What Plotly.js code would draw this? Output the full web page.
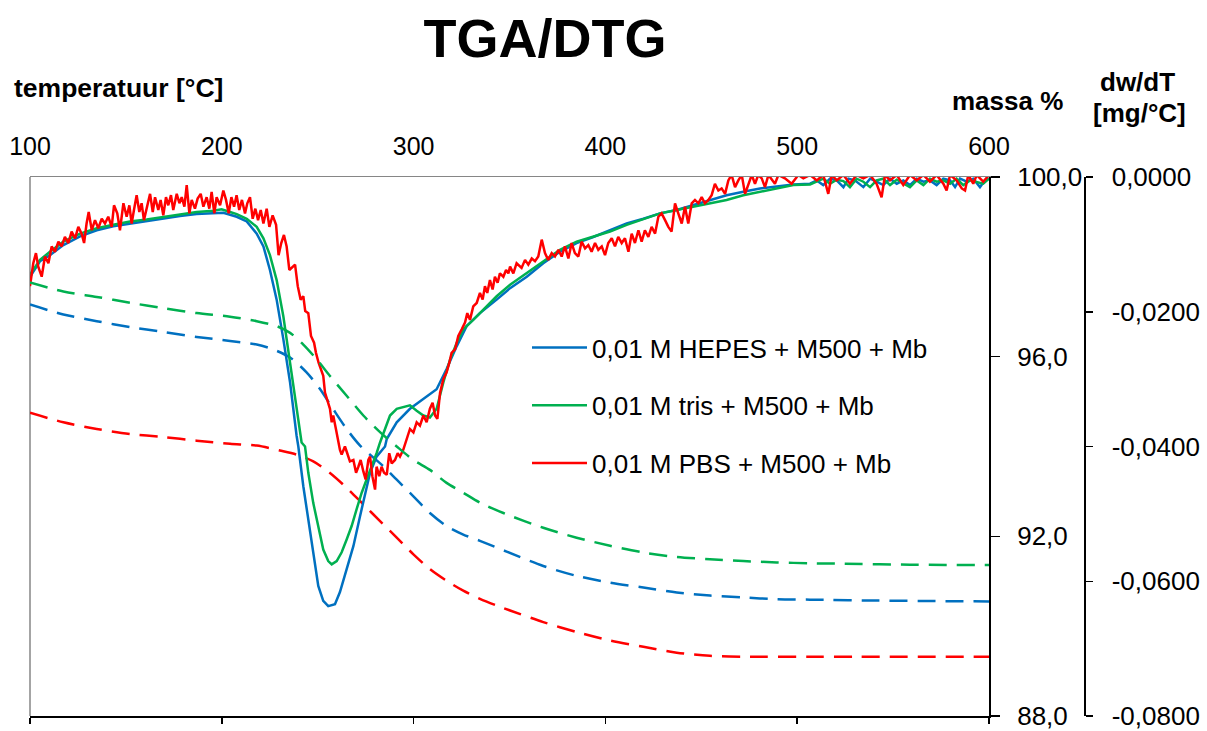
<!DOCTYPE html>
<html>
<head>
<meta charset="utf-8">
<script src="https://cdn.plot.ly/plotly-3.0.1.min.js"></script>
<style>html,body{margin:0;padding:0;background:#fff;}#chart{width:1207px;height:731px;}</style>
</head>
<body>
<div id="chart"></div>
<script>
// ---------- series names ----------
const seriesNames = ['0,01 M HEPES + M500 + Mb', '0,01 M tris + M500 + Mb', '0,01 M PBS + M500 + Mb'];

// ---------- tick labels ----------
const tempTicks = [100, 200, 300, 400, 500, 600];
const tempTickText = ['100', '200', '300', '400', '500', '600'];
const massTicks = [88, 92, 96, 100];
const massTickText = ['88,0', '92,0', '96,0', '100,0'];
const dtgTicks = [-0.08, -0.06, -0.04, -0.02, 0];
const dtgTickText = ['-0,0800', '-0,0600', '-0,0400', '-0,0200', '0,0000'];

// ---------- DTG (dw/dT, mg/°C), solid lines ----------
const dtgTempHepes = [100,105.2,110.4,117.4,126.1,134.8,143.4,152.1,160.8,169.5,178.2,186.9,195.6,200.8,207.8,213,218.2,221.7,225.1,228.6,232.1,235.6,239,239.9,242.5,245.1,247.7,250.3,252.9,255.5,259,261.6,265.1,268.6,272.1,275.5,277.3,280.7,285.1,286,291.2,298.1,305.1,312,317.2,322.5,327.7,334.6,343.3,350.3,359,367.6,376.3,385,393.7,402.4,411.1,419.8,428.5,437.2,445.8,454.5,463.2,471.9,480.6,489.3,498,506.7,510.2,513.6,517.1,520.6,524.1,526.7,530.1,534.5,538,541.4,544.9,548.4,551.9,555.3,558.8,562.3,565.8,569.2,572.7,576.2,579.7,582.3,584.9,588.4,591.8,595.3,597.9,600];
const dtgHepes = [-0.0148,-0.0125,-0.0116,-0.0101,-0.0088,-0.0079,-0.0073,-0.0069,-0.0065,-0.0062,-0.0058,-0.0055,-0.0054,-0.0053,-0.0059,-0.0066,-0.0084,-0.0103,-0.0138,-0.0182,-0.0241,-0.0305,-0.0384,-0.0400,-0.0459,-0.0508,-0.0557,-0.0607,-0.0629,-0.0637,-0.0634,-0.0616,-0.0582,-0.0548,-0.0503,-0.0464,-0.0439,-0.0415,-0.0400,-0.0389,-0.0364,-0.0344,-0.0330,-0.0315,-0.0285,-0.0251,-0.0221,-0.0202,-0.0182,-0.0165,-0.0148,-0.0128,-0.0111,-0.0098,-0.0089,-0.0079,-0.0069,-0.0062,-0.0054,-0.0049,-0.0042,-0.0034,-0.0027,-0.0022,-0.0017,-0.0014,-0.0011,-0.0010,-0.0005,-0.0012,-0.00025,-0.0005,-0.0015,-0.00025,-0.0005,-0.0015,-0.00025,-0.0007,-0.0012,-0.00025,-0.0010,-0.0005,-0.0012,-0.00025,-0.0007,-0.0005,-0.0012,-0.00025,-0.0005,-0.0015,-0.00025,-0.0007,-0.00025,-0.0015,-0.0005,-0.00025];

const dtgTempTris = [100,105.2,110.4,117.4,126.1,134.8,143.4,152.1,160.8,169.5,178.2,186.9,195.6,199.9,204.3,207.8,213,218.2,221.7,225.1,228.6,232.1,235.6,239,241.6,243.4,245.1,247.7,250.3,252.9,255.5,257.3,259.9,262.5,265.1,267.7,270.3,272.9,275.5,278.1,280.7,282.5,285.1,287.7,291.2,294.6,298.1,301.6,305.1,308.5,312,315.5,319,322.5,325.9,331.1,336.4,343.3,350.3,359,367.6,376.3,385,393.7,402.4,411.1,419.8,428.5,437.2,445.8,454.5,463.2,471.9,480.6,489.3,498,506.7,510.2,513.6,517.1,520.6,524.1,527.5,531,534.5,538,541.4,544.9,548.4,551.9,555.3,558.8,562.3,565.8,569.2,572.7,576.2,579.7,583.1,586.6,590.1,593.6,597,600];
const dtgTris = [-0.0145,-0.0123,-0.0111,-0.0096,-0.0084,-0.0076,-0.0071,-0.0066,-0.0063,-0.0059,-0.0056,-0.0052,-0.0050,-0.0048,-0.0052,-0.0055,-0.0062,-0.0074,-0.0091,-0.0116,-0.0153,-0.0207,-0.0276,-0.0344,-0.0394,-0.0400,-0.0439,-0.0484,-0.0518,-0.0553,-0.0570,-0.0575,-0.0570,-0.0557,-0.0538,-0.0518,-0.0493,-0.0469,-0.0449,-0.0430,-0.0410,-0.0394,-0.0374,-0.0354,-0.0344,-0.0342,-0.0339,-0.0347,-0.0354,-0.0357,-0.0344,-0.0305,-0.0271,-0.0246,-0.0226,-0.0212,-0.0197,-0.0177,-0.0160,-0.0143,-0.0125,-0.0108,-0.0096,-0.0089,-0.0081,-0.0071,-0.0062,-0.0054,-0.0049,-0.0044,-0.0038,-0.0034,-0.0027,-0.0022,-0.0017,-0.0012,-0.0011,-0.0007,-0.00025,-0.0010,-0.0004,-0.0006,-0.0015,-0.00025,-0.0007,-0.0015,-0.0005,-0.00025,-0.0012,-0.0004,-0.0010,-0.0015,-0.0005,-0.0012,-0.00025,-0.0007,-0.0005,-0.0010,-0.00025,-0.0012,-0.0005,-0.0007,-0.0010,-0.00025];

const dtgTempPbs = [100,101.7,103.1,104.3,106.1,107.8,109.6,111.3,113,114.8,116.5,118.2,120,121.7,123.5,125.2,126.9,128.2,129.5,130.6,132.2,133.9,135.6,137.4,139.1,140.8,142.6,143.8,145.5,146.9,148.7,150.4,151.8,153,154.2,155.6,157,158.2,159.4,161.2,162.6,164,165.2,166.9,168.1,169.5,170.9,172.1,173.5,174.7,176.5,177.9,179.1,180.5,181.7,183.1,184.3,186,187.4,189,190.4,192.1,193.5,194.7,196.1,197.3,199.1,200.8,202.2,203.6,205,206.4,207.7,209.1,210.5,212.1,213.3,214.7,216.1,217.5,218.9,220.3,221.7,223.4,224.8,226.5,228.3,229.6,231,232.4,233.8,235.2,236.9,238.2,239.6,241.1,242.5,243.5,245.1,246.5,248.1,249.1,250.5,251.5,252.9,253.8,255.5,256.4,257.3,258.1,259.5,260.8,261.6,262.5,264.2,265.4,266.8,268.6,270,271.2,272.4,273.8,275,276.4,277.3,278.5,279.9,280.7,282.1,283.3,284.6,286,287.3,288.6,290.3,291.7,292.9,294.6,296.4,298.1,299.9,301.6,303.3,305.1,306.8,308.5,309.9,311.2,312.4,313.8,315.5,317.2,318.6,319.8,321.6,323.3,325.1,326.8,328,329.4,331.1,332.9,334.6,336,337.2,338.4,339.8,341.2,342.4,343.8,345,346.8,348.2,349.4,350.3,352,353.7,356.3,358.1,359.8,361.6,363.3,365,366.8,368.5,370.2,372,373.7,375.5,377.2,378.9,380.7,382.4,384.1,385.9,387.6,389.4,391.1,392.8,394.6,396.3,398.1,399.8,401.5,403.3,405,406.7,408.5,410.2,412,413.7,415.4,417.2,418.9,420.6,422.4,424.1,425.9,427.6,429.3,431.1,432.8,434.5,436.3,438,439.8,441.5,443.2,445,446.7,448.5,450.2,451.9,453.7,455.4,457.1,458.9,460.6,462.4,464.1,465.8,467.6,469.3,471.1,472.8,474.5,476.3,478,479.7,481.5,483.2,485,488.4,490.2,493.6,497.1,500.6,503.2,506.7,510.2,513.6,516.2,518,520.6,524.1,527.5,531,534.5,538,541.4,544,545.8,548.4,551.9,555.3,558.8,562.3,565.8,569.2,572.7,576.2,577.9,579.7,583.1,585.8,587.5,589.2,591.8,593.6,597,600];
const dtgPbs = [-0.0162,-0.0128,-0.0113,-0.0133,-0.0148,-0.0118,-0.0128,-0.0103,-0.0111,-0.0096,-0.0103,-0.0089,-0.0098,-0.0081,-0.0091,-0.0074,-0.0084,-0.0098,-0.0069,-0.0052,-0.0079,-0.0064,-0.0076,-0.0062,-0.0069,-0.0059,-0.0074,-0.0042,-0.0054,-0.0079,-0.0039,-0.0059,-0.0042,-0.0069,-0.0049,-0.0027,-0.0052,-0.0039,-0.0064,-0.0044,-0.0025,-0.0052,-0.0030,-0.0049,-0.0034,-0.0057,-0.0030,-0.0042,-0.0027,-0.0049,-0.0025,-0.0039,-0.0030,-0.0044,-0.0012,-0.0054,-0.0034,-0.0047,-0.0032,-0.0025,-0.0044,-0.0030,-0.0047,-0.0022,-0.0054,-0.0030,-0.0042,-0.0020,-0.0034,-0.0054,-0.0030,-0.0044,-0.0027,-0.0049,-0.0034,-0.0054,-0.0039,-0.0030,-0.0062,-0.0047,-0.0064,-0.0049,-0.0069,-0.0047,-0.0074,-0.0057,-0.0071,-0.0116,-0.0098,-0.0086,-0.0103,-0.0138,-0.0133,-0.0130,-0.0162,-0.0182,-0.0177,-0.0199,-0.0202,-0.0236,-0.0246,-0.0261,-0.0276,-0.0285,-0.0295,-0.0320,-0.0335,-0.0344,-0.0364,-0.0354,-0.0374,-0.0394,-0.0405,-0.0412,-0.0400,-0.0410,-0.0422,-0.0420,-0.0439,-0.0430,-0.0420,-0.0437,-0.0449,-0.0420,-0.0415,-0.0444,-0.0464,-0.0430,-0.0444,-0.0430,-0.0439,-0.0442,-0.0410,-0.0425,-0.0420,-0.0410,-0.0415,-0.0405,-0.0389,-0.0374,-0.0379,-0.0364,-0.0369,-0.0354,-0.0364,-0.0344,-0.0335,-0.0354,-0.0359,-0.0320,-0.0300,-0.0290,-0.0276,-0.0261,-0.0256,-0.0236,-0.0226,-0.0216,-0.0202,-0.0212,-0.0192,-0.0187,-0.0172,-0.0182,-0.0162,-0.0172,-0.0153,-0.0167,-0.0148,-0.0157,-0.0143,-0.0148,-0.0138,-0.0143,-0.0133,-0.0143,-0.0128,-0.0135,-0.0123,-0.0130,-0.0121,-0.0125,-0.0118,-0.0093,-0.0113,-0.0123,-0.0113,-0.0118,-0.0108,-0.0118,-0.0103,-0.0121,-0.0098,-0.0113,-0.0118,-0.0096,-0.0106,-0.0101,-0.0111,-0.0098,-0.0108,-0.0103,-0.0116,-0.0098,-0.0091,-0.0103,-0.0089,-0.0098,-0.0091,-0.0111,-0.0084,-0.0098,-0.0079,-0.0096,-0.0079,-0.0089,-0.0074,-0.0084,-0.0059,-0.0054,-0.0064,-0.0074,-0.0081,-0.0039,-0.0054,-0.0069,-0.0044,-0.0069,-0.0039,-0.0034,-0.0039,-0.0030,-0.0039,-0.0034,-0.0027,-0.0010,-0.0020,-0.0017,-0.0025,-0.0005,0.0003,-0.0015,-0.0005,0.0003,-0.0025,-0.0010,0.0003,-0.0010,0.0003,-0.0002,-0.0015,0.0003,-0.0010,0.0003,-0.0002,-0.0010,0.0003,-0.0002,0.0003,-0.0005,0.0003,-0.0025,0.0003,-0.0005,0.0003,-0.0010,0.0003,-0.0002,0.0003,-0.0010,-0.0030,0.0003,-0.0005,0.0003,-0.0012,0.0003,-0.0005,0.0003,-0.0007,0.0003,-0.0010,-0.0020,0.0003,-0.0005,-0.0017,-0.0020,0.0003,-0.0010,0.0003,-0.0007,0.0003];

// ---------- TGA (massa %), dashed lines ----------
const tgaTempHepes = [100,117.4,134.8,152.1,169.5,186.9,204.3,218.2,226.9,235.6,244.2,251.2,258.1,265.1,272.1,284.2,291.2,299.9,308.5,317.2,325.9,334.6,348.5,367.6,385,402.4,419.8,437.2,454.5,471.9,489.3,506.7,541.4,600];
const tgaHepes = [97.16,96.94,96.79,96.66,96.55,96.44,96.35,96.27,96.16,95.98,95.65,95.28,94.83,94.39,94.02,93.56,93.26,92.89,92.52,92.23,92.04,91.90,91.66,91.34,91.12,90.97,90.86,90.75,90.68,90.64,90.60,90.59,90.57,90.55];

const tgaTempTris = [100,117.4,134.8,152.1,169.5,186.9,204.3,218.2,228.6,235.6,242.5,249.5,256.4,265.1,273.8,282.5,291.2,299.9,308.5,317.2,325.9,334.6,346.8,367.6,385,402.4,419.8,437.2,454.5,471.9,489.3,506.7,524.1,558.8,600];
const tgaTris = [97.65,97.45,97.33,97.20,97.08,96.97,96.89,96.79,96.68,96.53,96.27,95.94,95.57,95.13,94.69,94.32,94.00,93.70,93.48,93.19,92.97,92.75,92.52,92.19,91.97,91.79,91.64,91.54,91.49,91.45,91.42,91.40,91.39,91.37,91.36];

const tgaTempPbs = [100,117.4,134.8,152.1,169.5,186.9,204.3,218.2,230.3,239,247.7,256.4,265.1,273.8,282.5,291.2,299.9,308.5,317.2,325.9,334.6,343.3,350.3,367.6,385,402.4,419.8,437.2,454.5,471.9,506.7,600];
const tgaPbs = [94.75,94.54,94.39,94.28,94.21,94.13,94.06,94.02,93.91,93.82,93.67,93.41,93.08,92.71,92.34,91.97,91.60,91.27,91.01,90.79,90.61,90.46,90.35,90.09,89.87,89.68,89.54,89.41,89.34,89.32,89.32,89.32];

const colors = ['#0070C0', '#00B050', '#FF0000'];

const fontFam = '"Liberation Sans", Arial, Helvetica, sans-serif';

const dtgT = [dtgTempHepes, dtgTempTris, dtgTempPbs];
const dtgV = [dtgHepes, dtgTris, dtgPbs];
const tgaT = [tgaTempHepes, tgaTempTris, tgaTempPbs];
const tgaV = [tgaHepes, tgaTris, tgaPbs];
// the tris TGA curve sits on the top temperature axis (same range) so that axis is drawn
const tgaXAxis = ['x', 'x2', 'x'];

const traces = [];
// dashed TGA curves (massa %)
for (let i = 0; i < 3; i++) {
  traces.push({
    x: tgaT[i], y: tgaV[i], type: 'scatter', mode: 'lines',
    xaxis: tgaXAxis[i], yaxis: 'y',
    line: {color: colors[i], width: 2.5, dash: '18px,10px', shape: 'spline', smoothing: 0.8},
    showlegend: false, hoverinfo: 'skip', name: seriesNames[i] + ' (TGA)'
  });
}
// solid DTG curves
for (let i = 0; i < 3; i++) {
  traces.push({
    x: dtgT[i], y: dtgV[i], type: 'scatter', mode: 'lines',
    xaxis: 'x', yaxis: 'y2',
    line: {color: colors[i], width: 2.5},
    name: seriesNames[i], legendgroup: 'g' + i, showlegend: true
  });
}

// plot area in pixels
const plotL = 30, plotR = 989, plotT = 177, plotB = 716;
const paperW = 1207 - 30 - 10, paperH = plotB - plotT;
const px = v => (v - plotL) / paperW;
const py = v => (plotB - v) / paperH;

const layout = {
  width: 1207, height: 731,
  margin: {l: 30, r: 10, t: plotT, b: 731 - plotB},
  paper_bgcolor: '#ffffff', plot_bgcolor: '#ffffff',
  font: {family: fontFam, size: 26, color: '#000000'},
  title: {
    text: '<b>TGA/DTG</b>', font: {family: fontFam, size: 54, color: '#000'},
    xref: 'container', yref: 'container', x: 545 / 1207, xanchor: 'center', y: 1 - 38 / 731, yanchor: 'middle'
  },
  showlegend: true,
  legend: {
    x: px(527), y: py(324), xanchor: 'left', yanchor: 'top',
    bgcolor: 'rgba(0,0,0,0)', borderwidth: 0, font: {family: fontFam, size: 26, color: '#000'},
    tracegroupgap: 21, itemwidth: 55
  },
  xaxis: {
    domain: [0, (plotR - plotL) / paperW], range: [100, 600], anchor: 'y',
    tickmode: 'array', tickvals: tempTicks, showticklabels: false,
    ticks: 'outside', ticklen: 6, tickwidth: 1.5, tickcolor: '#000',
    showline: true, linecolor: '#000', linewidth: 2, showgrid: false, zeroline: false, fixedrange: true
  },
  xaxis2: {
    overlaying: 'x', side: 'top', anchor: 'y', range: [100, 600],
    tickmode: 'array', tickvals: tempTicks, ticktext: tempTickText, ticks: '',
    tickfont: {family: fontFam, size: 25, color: '#000'}, ticklabelstandoff: 11, ticklabeloverflow: 'allow',
    showline: true, linecolor: '#868686', linewidth: 1.5, showgrid: false, zeroline: false, fixedrange: true
  },
  yaxis: {
    side: 'right', anchor: 'x', range: [88, 100],
    tickmode: 'array', tickvals: massTicks, ticktext: massTickText,
    ticks: 'outside', ticklen: 9, tickwidth: 1.5, tickcolor: '#000',
    tickfont: {family: fontFam, size: 26, color: '#000'}, ticklabelstandoff: 12, ticklabeloverflow: 'allow',
    showline: true, linecolor: '#000', linewidth: 2, showgrid: false, zeroline: false, fixedrange: true
  },
  yaxis2: {
    overlaying: 'y', side: 'right', anchor: 'free', position: px(1084),
    range: [-0.08, 0], tickmode: 'array', tickvals: dtgTicks, ticktext: dtgTickText,
    ticks: 'outside', ticklen: 7, tickwidth: 1.5, tickcolor: '#000',
    tickfont: {family: fontFam, size: 26, color: '#000'}, ticklabelstandoff: 14, ticklabeloverflow: 'allow',
    showline: true, linecolor: '#000', linewidth: 1.5, showgrid: false, zeroline: false, fixedrange: true
  },
  shapes: [
    {type: 'line', xref: 'x domain', yref: 'y domain', x0: 0, x1: 0, y0: 0, y1: 1, line: {color: '#868686', width: 1.5}, layer: 'below'}
  ],
  annotations: [
    {text: '<b>temperatuur [°C]</b>', xref: 'paper', yref: 'paper', x: px(12), y: py(88), xanchor: 'left', yanchor: 'middle', showarrow: false, font: {family: fontFam, size: 26.5, color: '#000'}},
    {text: '<b>massa %</b>', xref: 'paper', yref: 'paper', x: px(1007), y: py(101), xanchor: 'center', yanchor: 'middle', showarrow: false, font: {family: fontFam, size: 26, color: '#000'}},
    {text: '<b>dw/dT</b>', xref: 'paper', yref: 'paper', x: px(1137), y: py(82), xanchor: 'center', yanchor: 'middle', showarrow: false, font: {family: fontFam, size: 26, color: '#000'}},
    {text: '<b>[mg/°C]</b>', xref: 'paper', yref: 'paper', x: px(1139), y: py(113), xanchor: 'center', yanchor: 'middle', showarrow: false, font: {family: fontFam, size: 26, color: '#000'}}
  ]
};

Plotly.newPlot('chart', traces, layout, {displayModeBar: false, staticPlot: true});
</script>
</body>
</html>
